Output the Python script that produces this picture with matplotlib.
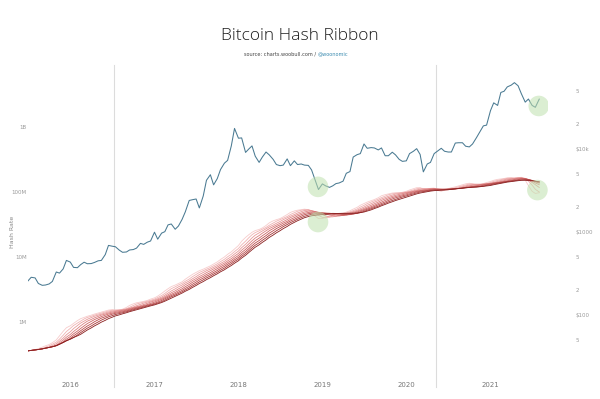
import numpy as np
import pandas as pd
import matplotlib
matplotlib.use("Agg")
import matplotlib.pyplot as plt
from matplotlib.ticker import FixedLocator, FixedFormatter, NullFormatter

# ------------------------------------------------------
# DATA (semi-monthly samples, 1st and 15th, from Jul 2015)
# ------------------------------------------------------

price_usd = [
    # 2015
    258, 285, 280, 240, 228, 230, 237, 254, 330, 320, 360, 455,
    # 2016
    434, 375, 372, 405, 433, 415, 417, 430, 450, 455, 535, 690,
    675, 665, 605, 570, 575, 608, 615, 640, 730, 710, 755, 780,
    # 2017
    995, 820, 970, 1010, 1220, 1250, 1080, 1180, 1420, 1750, 2400, 2450,
    2500, 1950, 2720, 4200, 4900, 3700, 4400, 5650, 6750, 7300, 10900, 17700,
    # 2018
    13500, 13600, 9100, 10000, 10900, 8200, 6900, 8000, 9200, 8500, 7500, 6500,
    6300, 6400, 7600, 6300, 7200, 6500, 6600, 6400, 6350, 5600, 4200, 3250,
    # 2019
    3800, 3600, 3450, 3600, 3830, 3900, 4100, 5100, 5350, 8000, 8550, 8800,
    11500, 10200, 10400, 10300, 9750, 10300, 8300, 8300, 9150, 8500, 7500, 7100,
    # 2020
    7200, 8800, 9400, 10100, 8600, 5300, 6600, 6900, 8800, 9400, 10200, 9400,
    9200, 9200, 11800, 11900, 11900, 10800, 10600, 11500, 13700, 16000, 19000, 19400,
    # 2021
    29000, 36000, 33500, 48000, 49600, 56000, 58800, 63000, 57800, 46500, 36700, 40000,
    33500, 31800, 39900,
]

hash_ehs = [
    # 2015
    0.36, 0.37, 0.38, 0.40, 0.42, 0.44, 0.46, 0.50, 0.56, 0.66, 0.78, 0.85,
    # 2016
    0.90, 1.00, 1.10, 1.15, 1.20, 1.25, 1.30, 1.35, 1.40, 1.45, 1.50, 1.55,
    1.55, 1.50, 1.55, 1.60, 1.75, 1.85, 1.95, 2.00, 2.05, 2.10, 2.20, 2.30,
    # 2017
    2.4, 2.6, 2.9, 3.1, 3.4, 3.6, 3.8, 4.0, 4.3, 4.8, 5.2, 5.6,
    6.0, 6.3, 6.7, 7.0, 7.6, 8.0, 8.8, 9.5, 10.5, 11.5, 12.5, 14.0,
    # 2018
    16, 19, 21, 23, 25, 26, 27, 29, 32, 35, 37, 38,
    40, 43, 47, 50, 52, 53, 54, 55, 52, 45, 40, 38,
    # 2019
    40, 42, 44, 45, 46, 47, 48, 50, 53, 56, 60, 65,
    68, 72, 75, 78, 85, 90, 92, 95, 98, 97, 98, 100,
    # 2020
    105, 110, 115, 118, 115, 105, 110, 118, 112, 100, 105, 110,
    115, 118, 122, 126, 132, 135, 138, 128, 126, 132, 138, 142,
    # 2021
    148, 155, 158, 160, 163, 168, 165, 160, 172, 165, 140, 110,
    95, 95, 100,
]

ribbon_windows = [2, 4, 6, 8, 10, 12, 14, 16]
ribbon_colors = ["#f7cccc", "#f0b3b3", "#e79a9a", "#dc8080", "#cd6666",
                 "#bb4c4c", "#a53535", "#8a2020"]

halvings = ["2016-07-09", "2020-05-11"]

year_ticks = ["2016", "2017", "2018", "2019", "2020", "2021"]

hash_ticks = [1, 10, 100, 1000]
hash_labels = ["1M", "10M", "100M", "1B"]

price_major = [100, 1000, 10000]
price_major_labels = ["$100", "$1000", "$10k"]
price_minor = [20, 50, 200, 500, 2000, 5000, 20000, 50000]
price_minor_labels = ["2", "5", "2", "5", "2", "5", "2", "5"]

# highlight circles: (date, value)
price_marks = [("2018-12-13", 3500), ("2021-07-30", 33000)]
hash_marks = [("2018-12-13", 34.5), ("2021-07-24", 107)]

# ------------------------------------------------------
# PREP
# ------------------------------------------------------

dates = pd.date_range("2015-07-01", periods=len(price_usd), freq="SMS")
hash_series = pd.Series(hash_ehs, index=dates)

W, H = 600, 399
fig = plt.figure(figsize=(6, 3.99), dpi=100)
ax = fig.add_axes([28 / W, 1 - 372 / H, 520 / W, 307 / H])
ax2 = ax.twinx()

x0 = pd.Timestamp("2015-07-01")
x1 = x0 + pd.Timedelta(days=520 / 84 * 365.25)

tick_color = "#9a9a9a"
circle_color = "#bfe0ad"

# ------------------------------------------------------
# HASH RIBBON (left axis)
# ------------------------------------------------------

for w, c in zip(ribbon_windows, ribbon_colors):
    ma = hash_series.rolling(w, min_periods=1).mean()
    ax.plot(ma.index, ma.values, color=c, lw=0.6)

for d, v in hash_marks:
    ax.scatter(pd.Timestamp(d), v, s=220, color=circle_color, alpha=0.55,
               edgecolors="none", zorder=5)

ax.set_yscale("log")
ax.set_ylim(0.170, 8995)
ax.yaxis.set_major_locator(FixedLocator(hash_ticks))
ax.yaxis.set_major_formatter(FixedFormatter(hash_labels))
ax.yaxis.set_minor_formatter(NullFormatter())
ax.tick_params(axis="y", which="both", length=0, labelsize=4, colors=tick_color, pad=1)

for h in halvings:
    ax.axvline(pd.Timestamp(h), ymin=-0.05, ymax=1, color="#dcdcdc", lw=0.8,
               clip_on=False, zorder=0)

# ------------------------------------------------------
# PRICE (right axis)
# ------------------------------------------------------

ax2.plot(dates, price_usd, color="#4a7a92", lw=0.75)
for d, v in price_marks:
    ax2.scatter(pd.Timestamp(d), v, s=220, color=circle_color, alpha=0.55,
                edgecolors="none", zorder=5)

ax2.set_yscale("log")
ax2.set_ylim(20.6, 102800)
ax2.yaxis.set_major_locator(FixedLocator(price_major))
ax2.yaxis.set_major_formatter(FixedFormatter(price_major_labels))
ax2.yaxis.set_minor_locator(FixedLocator(price_minor))
ax2.yaxis.set_minor_formatter(FixedFormatter(price_minor_labels))
ax2.tick_params(axis="y", which="both", length=0, labelsize=4, colors=tick_color, pad=20)

# ------------------------------------------------------
# X AXIS / STYLE
# ------------------------------------------------------

ax.set_xlim(x0, x1)
ax.set_xticks([pd.Timestamp(y + "-01-01") for y in year_ticks])
ax.set_xticklabels(year_ticks)
ax.tick_params(axis="x", length=0, labelsize=5, colors="#777777", pad=7)

for a in (ax, ax2):
    for s in a.spines.values():
        s.set_visible(False)

fig.text(12 / W, 1 - 232 / H, "Hash Rate", rotation=90, ha="center", va="center",
         fontsize=4.5, color="#888888")

fig.text(0.5, 1 - 36 / H, "Bitcoin Hash Ribbon", ha="center", va="center",
         fontsize=12.5, color="#1e1e1e", family="Open Sans", fontweight="light")
fig.text(0.5 + 18 / W, 1 - 54 / H, "source: charts.woobull.com / ", ha="right",
         va="center", fontsize=3.6, color="#444444")
fig.text(0.5 + 18 / W, 1 - 54 / H, "@woonomic", ha="left", va="center",
         fontsize=3.6, color="#3b8bb0")

fig.savefig("out.png", dpi=100, facecolor="white")
